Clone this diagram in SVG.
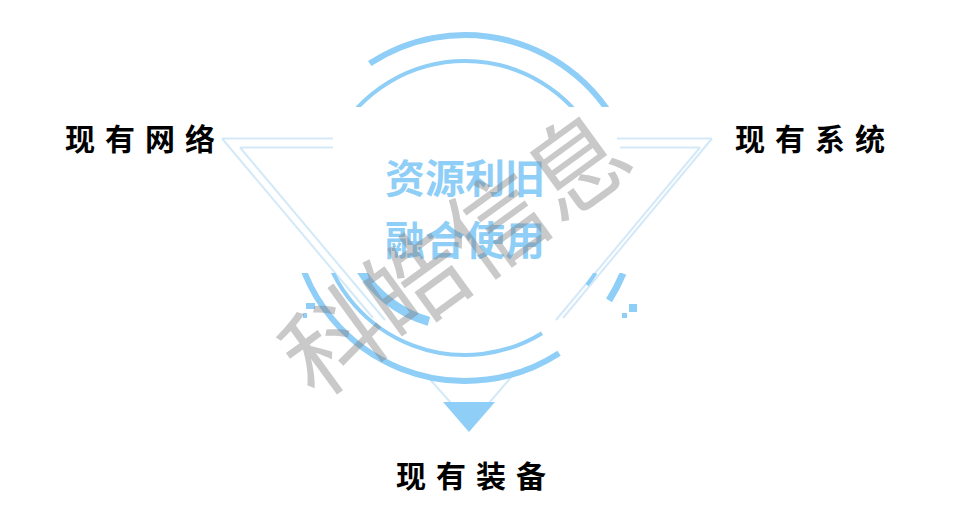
<svg xmlns="http://www.w3.org/2000/svg" width="958" height="513" viewBox="0 0 958 513">
  <style>
    .lbl { font-family: "Noto Sans CJK SC", "Noto Sans", sans-serif; font-weight: 700; font-size: 30px; letter-spacing: 10px; fill: #000; }
    .ctr { font-family: "Noto Sans CJK SC", "Noto Sans", sans-serif; font-weight: 700; font-size: 40px; fill: #8ecef7; }
    .tri { fill: none; stroke: #d3e9f8; stroke-width: 2; stroke-linecap: butt; }
    .arc { fill: none; stroke: #8ecef7; stroke-linecap: butt; }
    .wm { font-family: "Noto Sans CJK SC", "Noto Sans", sans-serif; font-weight: 400; font-size: 100px; fill: #7f7f7f; opacity: 0.42; }
  </style>
  <defs>
    <clipPath id="clipTop"><rect x="0" y="0" width="958" height="107"/></clipPath>
    <clipPath id="clipBottom"><rect x="0" y="273" width="958" height="240"/></clipPath>
  </defs>
  <rect width="958" height="513" fill="#ffffff"/>

  <g id="connectors">
    <!-- outer triangle -->
    <line class="tri" x1="222" y1="138.5" x2="333" y2="138.5"/>
    <line class="tri" x1="617" y1="138.5" x2="712" y2="138.5"/>
    <line class="tri" x1="222" y1="138.5" x2="373" y2="318"/>
    <line class="tri" x1="712" y1="138.5" x2="563" y2="318"/>
    <!-- inner triangle -->
    <line class="tri" x1="240" y1="147.5" x2="333" y2="147.5"/>
    <line class="tri" x1="620" y1="147.5" x2="700" y2="147.5"/>
    <line class="tri" x1="240" y1="147.5" x2="385" y2="320"/>
    <line class="tri" x1="700" y1="147.5" x2="556" y2="320"/>
    <line class="tri" x1="427" y1="376" x2="451" y2="403"/>
    <line class="tri" x1="513" y1="375" x2="489" y2="403"/>
  </g>

  <g id="rings">
    <g clip-path="url(#clipTop)">
      <path class="arc" stroke-width="6" d="M369.7,63.6 A173,173 0 0 1 619.4,130"/>
      <path class="arc" stroke-width="4" d="M340.4,130 A147,147 0 0 1 589.6,130"/>
    </g>
    <g clip-path="url(#clipBottom)">
      <path class="arc" stroke-width="6" d="M297.2,250 A173,173 0 0 0 559.1,353.2" stroke-linecap="round"/>
      <path class="arc" stroke-width="4" d="M324.1,250 A147,147 0 0 0 542,333.2" stroke-linecap="round"/>
      <path class="arc" stroke-width="9" d="M356,262 A119,119 0 0 0 428.9,321.4"/>
      <path class="arc" stroke-width="7" d="M623,273.5 A171,171 0 0 1 609,300.3" stroke-linecap="round"/>
      <path class="arc" stroke-width="4" d="M595.5,273 A145,145 0 0 1 587,285" stroke-linecap="round"/>
    </g>
    <rect x="629" y="304" width="8" height="8" fill="#8ecef7"/>
    <rect x="622" y="313" width="5" height="5" fill="#8ecef7"/>
    <rect x="306" y="303" width="9" height="6" fill="#8ecef7"/>
    <rect x="303" y="313" width="4" height="5" fill="#8ecef7"/>
  </g>

  <g id="node-bottom-arrow">
    <polygon points="443,402 495,402 469,432" fill="#8ecef7"/>
  </g>

  <g id="node-center">
    <text class="ctr" x="385" y="193">资源利旧</text>
    <text class="ctr" x="385" y="255">融合使用</text>
  </g>

  <g id="node-network">
    <text class="lbl" x="65" y="150">现有网络</text>
  </g>
  <g id="node-system">
    <text class="lbl" x="735" y="150">现有系统</text>
  </g>
  <g id="node-equipment">
    <text class="lbl" x="396" y="487">现有装备</text>
  </g>

  <g id="watermark" transform="translate(456,254) rotate(-36)">
    <text class="wm" x="0" y="36" text-anchor="middle">科皓信息</text>
  </g>
</svg>
